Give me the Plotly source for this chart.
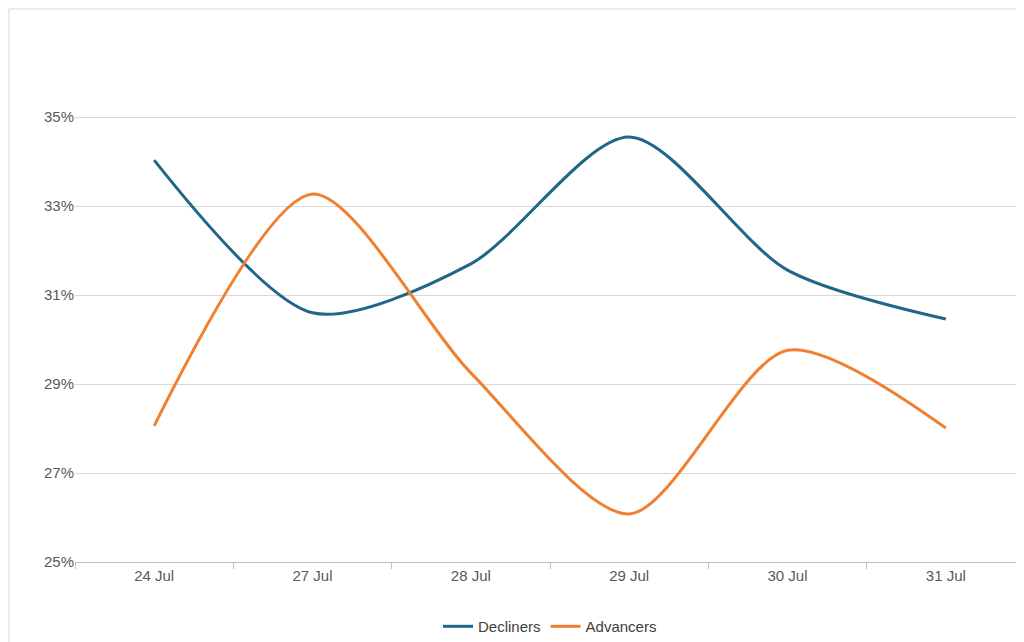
import plotly.graph_objects as go

dates = ["24 Jul", "27 Jul", "28 Jul", "29 Jul", "30 Jul", "31 Jul"]
decliners = [34.03, 30.6, 31.7, 34.55, 31.56, 30.46]
advancers = [28.06, 33.27, 29.25, 26.08, 29.76, 28.01]
yticks = [25, 27, 29, 31, 33, 35]

fig = go.Figure()
fig.add_trace(go.Scatter(x=dates, y=decliners, name="Decliners", mode="lines",
                         line=dict(color="#1F6688", width=3, shape="spline", smoothing=0.8)))
fig.add_trace(go.Scatter(x=dates, y=advancers, name="Advancers", mode="lines",
                         line=dict(color="#F08030", width=3, shape="spline", smoothing=0.8)))
fig.update_layout(
    width=1024, height=642, paper_bgcolor="white", plot_bgcolor="white",
    margin=dict(l=67, r=7, t=20, b=88, autoexpand=False),
    font=dict(family="Liberation Sans, Arial", size=15, color="#595959"),
    legend=dict(orientation="h", x=0.5, xanchor="center", y=-0.09, yanchor="top",
                font=dict(size=15, color="#404040")),
    xaxis=dict(showgrid=False, showline=True, linecolor="#BFBFBF", ticks="outside",
               tickson="boundaries", tickcolor="#BFBFBF", ticklen=6, range=[-0.5, 5.5],
               automargin=False),
    yaxis=dict(range=[25, 37], tickvals=yticks, ticktext=[f"{v}%" for v in yticks],
               showgrid=True, gridcolor="#D9D9D9", zeroline=False, ticks="",
               automargin=False),
    shapes=[dict(type="rect", xref="paper", yref="paper", x0=-0.0695, x1=1.005,
                 y0=-0.161, y1=1.0356, line=dict(color="#D9D9D9", width=1))],
)
fig.write_html("out.html")
